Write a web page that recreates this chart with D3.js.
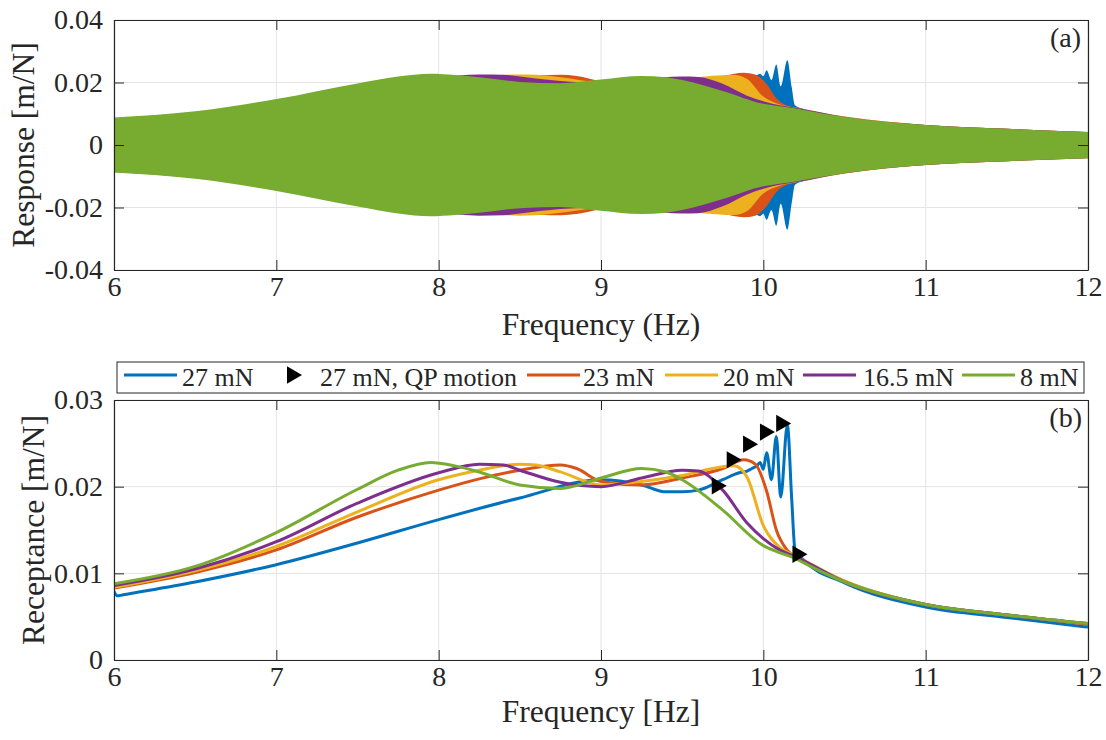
<!DOCTYPE html>
<html>

<head>
    <script src="https://d3js.org/d3.v7.min.js"></script>
    <title>Response and receptance</title>
    <meta charset="utf-8" />
    <style>
        body { margin: 0; background: #fff; }
        text { font-family: "Liberation Serif", "Times New Roman", serif; fill: #262626; }
    </style>
</head>

<body>
    <svg id="chart" width="1106" height="740"></svg>

    <script>
        // ---- data ----
        var seriesNames = ["27 mN", "23 mN", "20 mN", "16.5 mN", "8 mN"];
        var qpName = "27 mN, QP motion";
        var colours = ["#0072BD", "#D95319", "#EDB120", "#7E2F8E", "#77AC30"];

        var xTicks = [6, 7, 8, 9, 10, 11, 12];
        var yTicksTop = [-0.04, -0.02, 0, 0.02, 0.04];
        var yTicksBottom = [0, 0.01, 0.02, 0.03];

        // 27 mN
        var f27 = [6.0, 6.02, 6.05, 6.5, 7.0, 7.5, 8.0, 8.5, 9.0, 9.25, 9.4, 9.5, 9.6, 9.75, 9.85, 9.9, 9.93, 9.96,
            9.98, 10.0, 10.02, 10.05, 10.08, 10.107, 10.148, 10.175, 10.195, 10.25, 10.5, 11.0, 11.5, 12.0];
        var r27 = [0.0079, 0.0074, 0.0075, 0.0090, 0.0110, 0.0135, 0.0162, 0.0187, 0.0208, 0.0202, 0.0194, 0.0194, 0.0196,
            0.0208, 0.0216, 0.0218, 0.0221, 0.0224, 0.0228, 0.0220, 0.0239, 0.0208, 0.0258, 0.0188, 0.0271, 0.0185, 0.0127,
            0.0115, 0.0089, 0.0061, 0.0049, 0.0038];
        // 23 mN
        var f23 = [6.0, 6.5, 7.0, 7.5, 8.0, 8.25, 8.5, 8.75, 8.85, 9.0, 9.25, 9.5, 9.75, 9.88, 9.95, 10.02, 10.08, 10.15,
            10.22, 10.5, 11.0, 11.5, 12.0];
        var r23 = [0.0083, 0.0101, 0.0127, 0.0165, 0.0196, 0.0209, 0.0219, 0.0225, 0.0221, 0.0206, 0.0202, 0.0210, 0.0221,
            0.0231, 0.0226, 0.0195, 0.0150, 0.0126, 0.0117, 0.0091, 0.0064, 0.0052, 0.0041];
        // 20 mN
        var f20 = [6.0, 6.5, 7.0, 7.5, 8.0, 8.25, 8.5, 8.6, 8.75, 9.0, 9.25, 9.5, 9.75, 9.82, 9.9, 10.0, 10.1, 10.2,
            10.5, 11.0, 11.5, 12.0];
        var r20 = [0.0084, 0.0103, 0.0131, 0.0171, 0.0208, 0.0219, 0.0226, 0.0225, 0.0217, 0.0202, 0.0206, 0.0213, 0.0223,
            0.0224, 0.0211, 0.0155, 0.0130, 0.0120, 0.0091, 0.0064, 0.0052, 0.0042];
        // 16.5 mN
        var f165 = [6.0, 6.5, 7.0, 7.5, 8.0, 8.25, 8.4, 8.5, 8.75, 9.0, 9.25, 9.5, 9.6, 9.75, 9.9, 10.0, 10.1, 10.2,
            10.5, 11.0, 11.5, 12.0];
        var r165 = [0.0086, 0.0105, 0.01365, 0.0181, 0.0216, 0.0226, 0.0225, 0.0219, 0.0205, 0.0200, 0.0210, 0.0219, 0.0218,
            0.0196, 0.0158, 0.0140, 0.0127, 0.0119, 0.0090, 0.0064, 0.0052, 0.0042];
        // 8 mN
        var f8 = [6.0, 6.5, 7.0, 7.5, 7.75, 7.95, 8.1, 8.25, 8.5, 8.75, 9.0, 9.25, 9.4, 9.5, 9.75, 10.0, 10.1, 10.2,
            10.25, 10.5, 11.0, 11.5, 12.0];
        var r8 = [0.0088, 0.0108, 0.0147, 0.0197, 0.0219, 0.0228, 0.0224, 0.0217, 0.0202, 0.0198, 0.0210, 0.0221, 0.0217,
            0.0208, 0.0173, 0.0132, 0.0124, 0.0117, 0.0112, 0.0090, 0.0064, 0.0052, 0.0042];

        // quasi-periodic motion markers (27 mN)
        var qpFreq = [9.713, 9.805, 9.906, 10.01, 10.11, 10.21];
        var qpVal = [0.0201, 0.0231, 0.0249, 0.0263, 0.0273, 0.0122];

        var freqs = [f27, f23, f20, f165, f8];
        var vals = [r27, r23, r20, r165, r8];

        // ---- layout ----
        var left = 114, right = 1088;
        var axisColour = "#262626";
        var gridColour = "#e4e4e4";

        var svg = d3.select("#chart");

        var x = d3.scaleLinear().domain([6, 12]).range([left, right]);
        var yTop = d3.scaleLinear().domain([-0.04, 0.04]).range([270, 20]);
        var yBot = d3.scaleLinear().domain([0, 0.03]).range([660, 400]);

        var series = vals.map(function (v, i) {
            return { name: seriesNames[i], colour: colours[i], points: d3.zip(freqs[i], v) };
        });

        function grid(y, yTicks) {
            var g = svg.append("g");
            g.selectAll(".gx").data(xTicks).enter().append("line")
                .attr("x1", d => x(d)).attr("x2", d => x(d))
                .attr("y1", y.range()[0]).attr("y2", y.range()[1])
                .attr("stroke", gridColour);
            g.selectAll(".gy").data(yTicks).enter().append("line")
                .attr("x1", left).attr("x2", right)
                .attr("y1", d => y(d)).attr("y2", d => y(d))
                .attr("stroke", gridColour);
        }

        function axes(y, yTicks) {
            var y0 = y.range()[0], y1 = y.range()[1];
            var gb = svg.append("g").attr("transform", "translate(0," + y0 + ")")
                .call(d3.axisBottom(x).tickValues(xTicks).tickSizeInner(-10).tickSizeOuter(0).tickPadding(6).tickFormat(d => String(d)));
            var gt = svg.append("g").attr("transform", "translate(0," + y1 + ")")
                .call(d3.axisTop(x).tickValues(xTicks).tickSizeInner(-10).tickSizeOuter(0).tickFormat(""));
            var gl = svg.append("g").attr("transform", "translate(" + left + ",0)")
                .call(d3.axisLeft(y).tickValues(yTicks).tickSizeInner(-10).tickSizeOuter(0).tickPadding(11).tickFormat(d => String(d)));
            var gr = svg.append("g").attr("transform", "translate(" + right + ",0)")
                .call(d3.axisRight(y).tickValues(yTicks).tickSizeInner(-10).tickSizeOuter(0).tickFormat(""));
            [gb, gt, gl, gr].forEach(function (g) {
                g.attr("font-size", 28).attr("color", axisColour);
                g.select(".domain").attr("stroke-width", 1.2);
            });
        }

        // clip paths
        var defs = svg.append("defs");
        defs.append("clipPath").attr("id", "clipTop").append("rect")
            .attr("x", left).attr("y", 20).attr("width", right - left).attr("height", 250);
        defs.append("clipPath").attr("id", "clipBot").append("rect")
            .attr("x", left).attr("y", 400).attr("width", right - left).attr("height", 260);

        // ---- panel (a): time response envelope ----
        grid(yTop, yTicksTop);

        var band = d3.area()
            .x(d => x(d[0]))
            .y0(d => yTop(-d[1]))
            .y1(d => yTop(d[1]))
            .curve(d3.curveMonotoneX);

        svg.append("g").attr("clip-path", "url(#clipTop)")
            .selectAll("path").data(series).enter().append("path")
            .attr("d", d => band(d.points))
            .attr("fill", d => d.colour);

        axes(yTop, yTicksTop);

        svg.append("text").attr("x", (left + right) / 2).attr("y", 335)
            .attr("text-anchor", "middle").attr("font-size", 31.5).text("Frequency (Hz)");
        svg.append("text").attr("transform", "translate(34,145) rotate(-90)")
            .attr("text-anchor", "middle").attr("font-size", 31.5).text("Response [m/N]");
        svg.append("text").attr("x", 1081).attr("y", 47)
            .attr("text-anchor", "end").attr("font-size", 28).text("(a)");

        // ---- panel (b): receptance ----
        grid(yBot, yTicksBottom);

        var line = d3.line()
            .x(d => x(d[0]))
            .y(d => yBot(d[1]))
            .curve(d3.curveMonotoneX);

        var plotB = svg.append("g").attr("clip-path", "url(#clipBot)");
        plotB.selectAll("path").data(series).enter().append("path")
            .attr("d", d => line(d.points))
            .attr("fill", "none")
            .attr("stroke", d => d.colour)
            .attr("stroke-width", 3)
            .attr("stroke-linejoin", "round");

        var tri = d3.symbol().type(d3.symbolTriangle).size(130);
        plotB.selectAll(".qp").data(d3.zip(qpFreq, qpVal)).enter().append("path")
            .attr("d", tri)
            .attr("transform", d => "translate(" + x(d[0]) + "," + yBot(d[1]) + ") rotate(90)")
            .attr("fill", "#000");

        axes(yBot, yTicksBottom);

        svg.append("text").attr("x", (left + right) / 2).attr("y", 722)
            .attr("text-anchor", "middle").attr("font-size", 31.5).text("Frequency [Hz]");
        svg.append("text").attr("transform", "translate(44,530) rotate(-90)")
            .attr("text-anchor", "middle").attr("font-size", 31.5).text("Receptance [m/N]");
        svg.append("text").attr("x", 1082).attr("y", 427)
            .attr("text-anchor", "end").attr("font-size", 28).text("(b)");

        // ---- legend ----
        var legend = svg.append("g");
        legend.append("rect")
            .attr("x", 117).attr("y", 362).attr("width", 967).attr("height", 31)
            .attr("fill", "#fff").attr("stroke", axisColour).attr("stroke-width", 1);

        // line start, text start for each entry
        var legendSlots = [[124, 182], [527, 583], [665, 723], [803, 863], [962, 1020]];
        var ly = 375;
        legend.selectAll(".ll").data(series).enter().append("line")
            .attr("x1", (d, i) => legendSlots[i][0]).attr("x2", (d, i) => legendSlots[i][0] + 53)
            .attr("y1", ly).attr("y2", ly)
            .attr("stroke", d => d.colour).attr("stroke-width", 3);
        legend.selectAll(".lt").data(series).enter().append("text")
            .attr("x", (d, i) => legendSlots[i][1]).attr("y", 385.5)
            .attr("font-size", 26).text(d => d.name);

        legend.append("path").attr("d", tri)
            .attr("transform", "translate(292," + ly + ") rotate(90)").attr("fill", "#000");
        legend.append("text").attr("x", 320).attr("y", 385.5)
            .attr("font-size", 26).text(qpName);
    </script>
</body>

</html>
